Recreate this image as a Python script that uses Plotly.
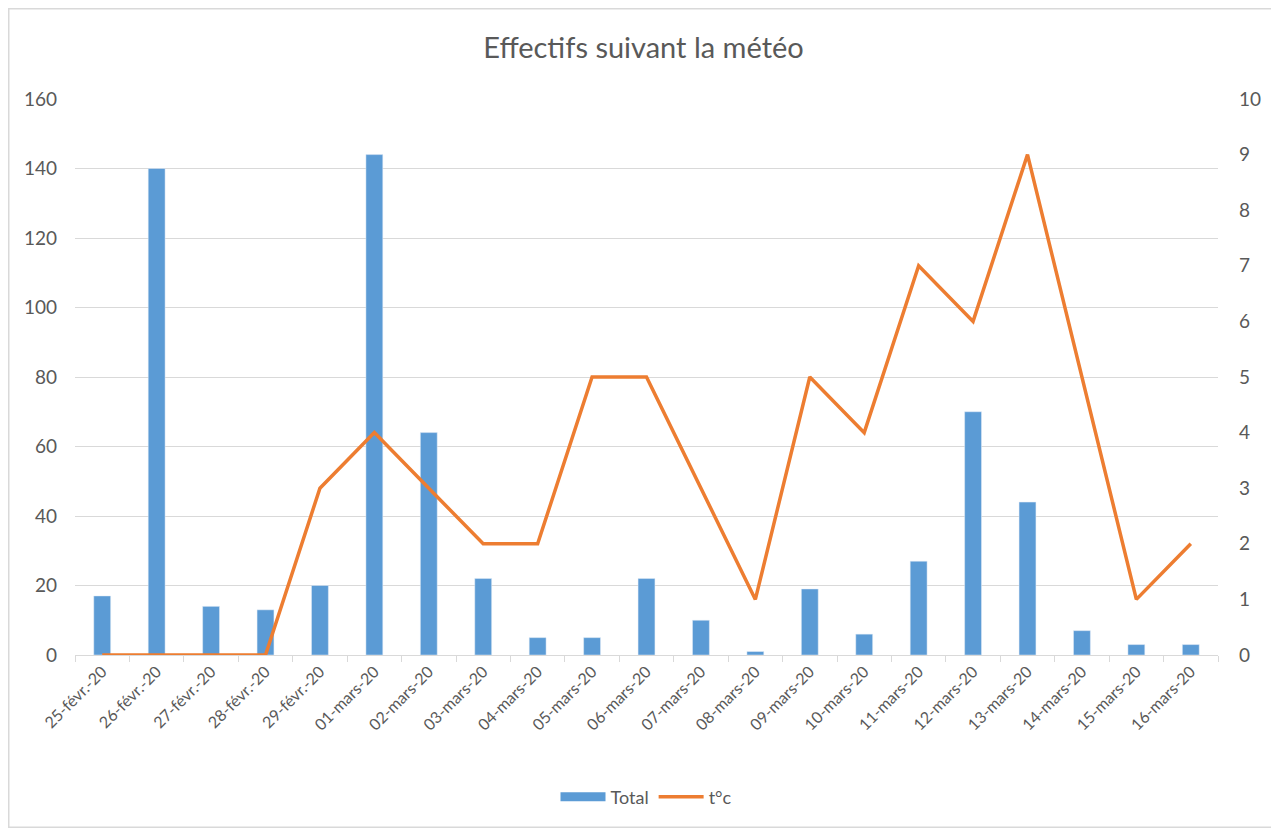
import plotly.graph_objects as go

categories = ["25-févr.-20", "26-févr.-20", "27-févr.-20", "28-févr.-20", "29-févr.-20",
              "01-mars-20", "02-mars-20", "03-mars-20", "04-mars-20", "05-mars-20",
              "06-mars-20", "07-mars-20", "08-mars-20", "09-mars-20", "10-mars-20",
              "11-mars-20", "12-mars-20", "13-mars-20", "14-mars-20", "15-mars-20",
              "16-mars-20"]
total = [17, 140, 14, 13, 20, 144, 64, 22, 5, 5, 22, 10, 1, 19, 6, 27, 70, 44, 7, 3, 3]
temp = [0, 0, 0, 0, 3, 4, 3, 2, 2, 5, 5, 3, 1, 5, 4, 7, 6, 9, 5, 1, 2]
left_ticks = [0, 20, 40, 60, 80, 100, 120, 140, 160]
right_ticks = [0, 1, 2, 3, 4, 5, 6, 7, 8, 9, 10]

font_family = "Lato, 'Open Sans', sans-serif"
tick_color = "#595959"
grid_color = "#D9D9D9"
bar_color = "#5B9BD5"
line_color = "#ED7D31"

fig = go.Figure()
fig.add_trace(go.Bar(x=categories, y=total, name="Total", marker=dict(color=bar_color),
                     width=0.31, yaxis="y", showlegend=False))
# legend-only entry that gives the bar series a wide rectangle swatch
fig.add_trace(go.Scatter(x=[None], y=[None], name="Total", mode="lines",
                         line=dict(color=bar_color, width=9), yaxis="y",
                         hoverinfo="skip"))
fig.add_trace(go.Scatter(x=categories, y=temp, name="t°c", mode="lines",
                         line=dict(color=line_color, width=3.5), yaxis="y2"))

# page body adds an 8px offset, so the figure is 8px smaller than the window
W, H = 1271, 820
L, R, T, B = 67, 61, 91, 173
pw, ph = W - L - R, H - T - B

def px_x(x):
    return (x - L) / pw

def px_y(y):
    return (H - B - y) / ph

fig.update_layout(
    width=W, height=H,
    margin=dict(l=L, r=R, t=T, b=B),
    paper_bgcolor="white", plot_bgcolor="white",
    font=dict(family=font_family, color=tick_color, size=14),
    title=dict(text="Effectifs suivant la météo", x=0.5, xanchor="center",
               y=1 - 40 / H, yanchor="middle",
               font=dict(size=29, color="#595959", family=font_family)),
    xaxis=dict(type="category", tickangle=-45, showgrid=False, showline=True,
               linecolor=grid_color, linewidth=1, ticks="outside", tickson="boundaries",
               ticklen=6, tickcolor=grid_color, tickfont=dict(size=16, color=tick_color)),
    yaxis=dict(range=[0, 160], tickvals=left_ticks, showgrid=True, gridcolor=grid_color,
               gridwidth=1, zeroline=False, showline=False, ticks="",
               tickfont=dict(size=19, color=tick_color), ticklabelstandoff=17),
    yaxis2=dict(range=[0, 10], tickvals=right_ticks, overlaying="y", side="right",
                showgrid=False, zeroline=False, showline=False, ticks="",
                tickfont=dict(size=19, color=tick_color), ticklabelstandoff=20),
    legend=dict(orientation="h", x=0.5, xanchor="center", y=px_y(789), yanchor="middle",
                font=dict(size=18, color=tick_color), itemwidth=45, traceorder="normal"),
    bargap=0.69,
    showlegend=True,
    shapes=[dict(type="rect", xref="paper", yref="paper",
                 x0=px_x(0.5), x1=px_x(W - 1.5), y0=px_y(H - 0.5), y1=px_y(0.5),
                 line=dict(color="#D9D9D9", width=2), fillcolor="rgba(0,0,0,0)",
                 layer="below")],
)

fig.write_html("out.html")
